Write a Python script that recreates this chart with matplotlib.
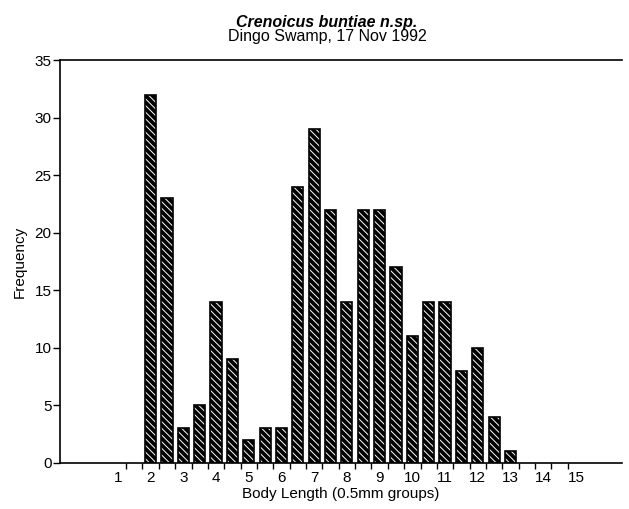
import matplotlib.pyplot as plt
import numpy as np

plt.rcParams['font.family'] = ['Liberation Sans', 'DejaVu Sans']

# body length groups (0.5mm), frequency
lengths = [2, 2.5, 3, 3.5, 4, 4.5, 5, 5.5, 6, 6.5, 7, 7.5, 8, 8.5, 9, 9.5,
           10, 10.5, 11, 11.5, 12, 12.5, 13]
freq = [32, 23, 3, 5, 14, 9, 2, 3, 3, 24, 29, 22, 14, 22, 22, 17,
        11, 14, 14, 8, 10, 4, 1]
xlabels = [str(i) for i in range(1, 16)]

fig = plt.figure(figsize=(6.29, 5.09), dpi=100)
ax = fig.add_axes([0.0954, 0.0904, 0.8935, 0.7917])

# dark bars with white diagonal hatch, then black outline
plt.rcParams['hatch.linewidth'] = 0.7
ax.bar(lengths, freq, width=0.34, color='black', edgecolor='white',
       hatch='\\\\\\\\\\', linewidth=0)
ax.bar(lengths, freq, width=0.34, fill=False, edgecolor='black', linewidth=1.2)

ax.set_xlim(-0.77, 16.41)
ax.set_ylim(0, 35)

ax.set_xticks(range(1, 16))
ax.set_xticklabels(xlabels, fontsize=11)
ax.set_xticks(np.arange(1.25, 15, 0.5), minor=True)
ax.tick_params(axis='x', which='major', length=0, pad=6)
ax.tick_params(axis='x', which='minor', length=4, width=1, direction='out')

ax.set_yticks(range(0, 36, 5))
ax.tick_params(axis='y', labelsize=11, length=5, width=1, direction='out', pad=1)

for s in ['left', 'bottom', 'top']:
    ax.spines[s].set_linewidth(1.2)
ax.spines['right'].set_visible(False)

ax.set_xlabel('Body Length (0.5mm groups)', fontsize=11, labelpad=1)
ax.set_ylabel('Frequency', fontsize=11, labelpad=6)

fig.text(0.52, 0.947, 'Crenoicus buntiae n.sp.', ha='center', va='baseline',
         fontsize=11.5, fontweight='bold', fontstyle='italic')
fig.text(0.52, 0.919, 'Dingo Swamp, 17 Nov 1992', ha='center', va='baseline',
         fontsize=11.5)

fig.savefig('out.png', dpi=100)
